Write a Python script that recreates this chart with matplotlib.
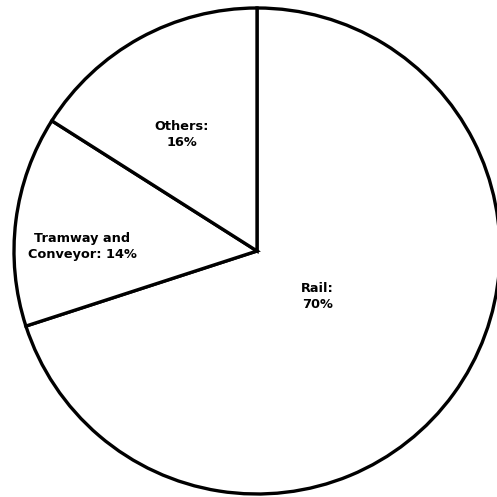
import numpy as np
import matplotlib
matplotlib.use('Agg')
import matplotlib.pyplot as plt

labels = ['Rail:\n70%', 'Tramway and\nConveyor: 14%', 'Others:\n16%']
shares = [70, 14, 16]

# label placement: (fraction of radius, angle in degrees)
label_pos = [(0.31, -37), (0.72, 178.4), (0.57, 123.0)]

W = 497
cx, cy, r = 257, 251, 243

fig = plt.figure(figsize=(W / 100, W / 100), dpi=100)
ax = fig.add_axes([0, 0, 1, 1])
ax.pie(shares, startangle=90, counterclock=False, radius=1,
       colors=['white'] * 3,
       wedgeprops=dict(edgecolor='black', linewidth=2.4))

for text, (d, a) in zip(labels, label_pos):
    t = np.deg2rad(a)
    ax.text(d * np.cos(t), d * np.sin(t), text, ha='center', va='center',
            fontsize=9.3, fontweight='heavy', linespacing=1.3)

ax.set_xlim(-cx / r, (W - cx) / r)
ax.set_ylim(-(W - cy) / r, cy / r)
ax.set_aspect('auto')
ax.axis('off')
fig.savefig('out.png', dpi=100, facecolor='white')
